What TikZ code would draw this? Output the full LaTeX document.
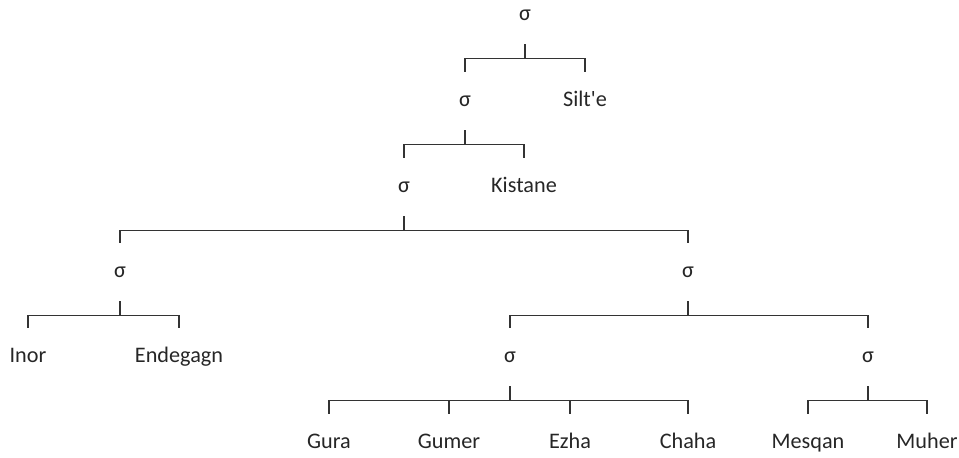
\documentclass[tikz,border=0pt]{standalone}
\usepackage{fontspec}
\setmainfont{Carlito}[Ligatures=TeXOff]

\begin{document}
\begin{tikzpicture}[x=0.025cm,y=-0.025cm,
    lang/.style={inner sep=0pt,minimum height=1.45cm,text height=1em,
                 text depth=0.25em,font=\fontsize{15.8}{19}\selectfont,
                 text=black!85},
    br/.style={draw=black!80,line width=1.1pt}]
%
  \useasboundingbox (0,0) rectangle (959,458);
%
  \node[lang] (s0)    at (525, 15) {σ};
  \node[lang] (s1)    at (465,101) {σ};
  \node[lang] (silte) at (585,101) {Silt'e};
  \node[lang] (s2)    at (404,187) {σ};
  \node[lang] (kist)  at (524,187) {Kistane};
  \node[lang] (sl)    at (120,272) {σ};
  \node[lang] (sr)    at (688,272) {σ};
  \node[lang] (inor)  at ( 28,357) {Inor};
  \node[lang] (ende)  at (179,357) {Endegagn};
  \node[lang] (sm)    at (510,357) {σ};
  \node[lang] (sn)    at (868,357) {σ};
  \node[lang] (gura)  at (329,443) {Gura};
  \node[lang] (gumer) at (449,443) {Gumer};
  \node[lang] (ezha)  at (570,443) {Ezha};
  \node[lang] (chaha) at (688,443) {Chaha};
  \node[lang] (mesq)  at (808,443) {Mesqan};
  \node[lang] (muher) at (927,443) {Muher};
%
  % bar level under each parent
  \foreach \p in {s0,s1,s2,sl,sr,sm,sn}
    \path (\p.south) ++(0,14) coordinate (b\p);
%
  \draw[br] (s0.south) -- (bs0) (s1.north) |- (bs0) -| (silte.north);
  \draw[br] (s1.south) -- (bs1) (s2.north) |- (bs1) -| (kist.north);
  \draw[br] (s2.south) -- (bs2) (sl.north) |- (bs2) -| (sr.north);
  \draw[br] (sl.south) -- (bsl) (inor.north) |- (bsl) -| (ende.north);
  \draw[br] (sr.south) -- (bsr) (sm.north) |- (bsr) -| (sn.north);
  \draw[br] (sm.south) -- (bsm) (gura.north) |- (bsm) -| (chaha.north);
  \draw[br] (gumer.north) -- (gumer.north |- bsm)
            (ezha.north) -- (ezha.north |- bsm);
  \draw[br] (sn.south) -- (bsn) (mesq.north) |- (bsn) -| (muher.north);
\end{tikzpicture}
\end{document}
